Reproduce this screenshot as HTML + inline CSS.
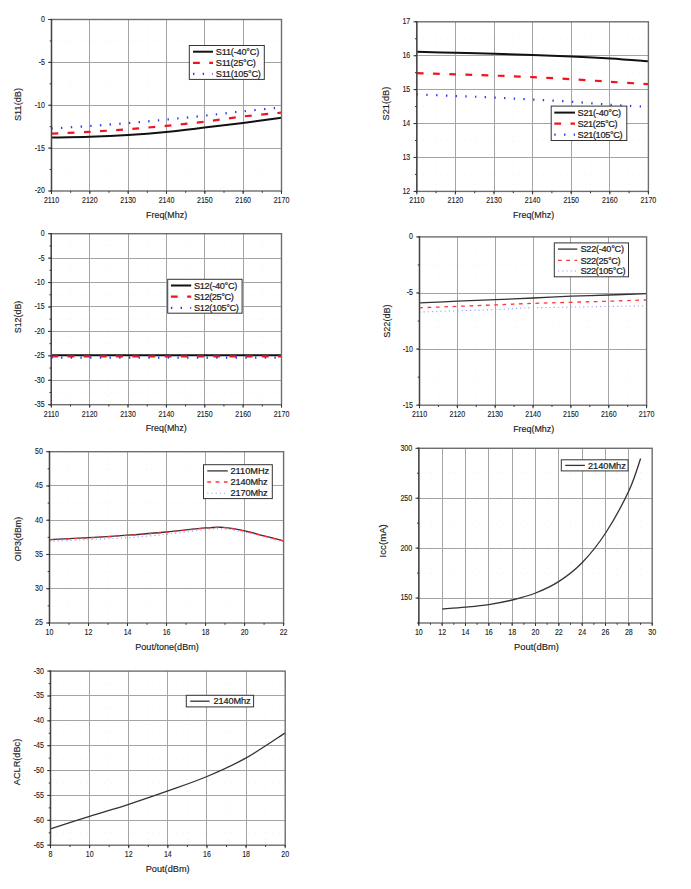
<!DOCTYPE html>
<html><head><meta charset="utf-8"><style>
html,body{margin:0;padding:0;background:#fff;width:691px;height:889px;overflow:hidden}
svg{display:block;font-family:"Liberation Sans", sans-serif}
</style></head><body>
<svg width="691" height="889" viewBox="0 0 691 889">
<rect width="691" height="889" fill="#fff"/>
<line x1="70.67" y1="19.5" x2="70.67" y2="191.0" stroke="#f0f0f0" stroke-width="0.8" stroke-dasharray="1 5"/>
<line x1="109.00" y1="19.5" x2="109.00" y2="191.0" stroke="#f0f0f0" stroke-width="0.8" stroke-dasharray="1 5"/>
<line x1="147.33" y1="19.5" x2="147.33" y2="191.0" stroke="#f0f0f0" stroke-width="0.8" stroke-dasharray="1 5"/>
<line x1="185.67" y1="19.5" x2="185.67" y2="191.0" stroke="#f0f0f0" stroke-width="0.8" stroke-dasharray="1 5"/>
<line x1="224.00" y1="19.5" x2="224.00" y2="191.0" stroke="#f0f0f0" stroke-width="0.8" stroke-dasharray="1 5"/>
<line x1="262.33" y1="19.5" x2="262.33" y2="191.0" stroke="#f0f0f0" stroke-width="0.8" stroke-dasharray="1 5"/>
<line x1="51.5" y1="169.56" x2="281.5" y2="169.56" stroke="#f0f0f0" stroke-width="0.8" stroke-dasharray="1 5"/>
<line x1="51.5" y1="126.69" x2="281.5" y2="126.69" stroke="#f0f0f0" stroke-width="0.8" stroke-dasharray="1 5"/>
<line x1="51.5" y1="83.81" x2="281.5" y2="83.81" stroke="#f0f0f0" stroke-width="0.8" stroke-dasharray="1 5"/>
<line x1="51.5" y1="40.94" x2="281.5" y2="40.94" stroke="#f0f0f0" stroke-width="0.8" stroke-dasharray="1 5"/>
<line x1="89.50" y1="19.5" x2="89.50" y2="191.0" stroke="#a4a4a4" stroke-width="1"/>
<line x1="128.50" y1="19.5" x2="128.50" y2="191.0" stroke="#a4a4a4" stroke-width="1"/>
<line x1="166.50" y1="19.5" x2="166.50" y2="191.0" stroke="#a4a4a4" stroke-width="1"/>
<line x1="204.50" y1="19.5" x2="204.50" y2="191.0" stroke="#a4a4a4" stroke-width="1"/>
<line x1="243.50" y1="19.5" x2="243.50" y2="191.0" stroke="#a4a4a4" stroke-width="1"/>
<line x1="51.5" y1="148.50" x2="281.5" y2="148.50" stroke="#a4a4a4" stroke-width="1"/>
<line x1="51.5" y1="105.50" x2="281.5" y2="105.50" stroke="#a4a4a4" stroke-width="1"/>
<line x1="51.5" y1="62.50" x2="281.5" y2="62.50" stroke="#a4a4a4" stroke-width="1"/>
<path d="M51.50,137.50 C57.88,137.37 77.05,137.13 89.80,136.70 C102.55,136.27 115.30,135.70 128.00,134.90 C140.70,134.10 153.25,133.12 166.00,131.90 C178.75,130.68 191.67,129.08 204.50,127.60 C217.33,126.12 230.17,124.63 243.00,123.00 C255.83,121.37 275.08,118.67 281.50,117.80" stroke="#111" stroke-width="2" fill="none"/>
<path d="M51.50,133.60 C57.88,133.30 77.05,132.53 89.80,131.80 C102.55,131.07 115.30,130.18 128.00,129.20 C140.70,128.22 153.25,127.15 166.00,125.90 C178.75,124.65 191.67,123.27 204.50,121.70 C217.33,120.13 230.17,118.02 243.00,116.50 C255.83,114.98 275.08,113.25 281.50,112.60" stroke="#f0141e" stroke-width="2.2" fill="none" stroke-dasharray="6.8 9.4"/>
<path d="M51.50,128.50 C57.88,128.08 77.05,126.90 89.80,126.00 C102.55,125.10 115.30,124.17 128.00,123.10 C140.70,122.03 153.25,120.83 166.00,119.60 C178.75,118.37 191.67,117.08 204.50,115.70 C217.33,114.32 230.17,112.68 243.00,111.30 C255.83,109.92 275.08,108.05 281.50,107.40" stroke="#2b3cf0" stroke-width="2.2" fill="none" stroke-dasharray="1.4 8.3" stroke-linecap="butt"/>
<rect x="51.5" y="19.5" width="230.00" height="171.50" fill="none" stroke="#6e6e6e" stroke-width="1.4"/>
<line x1="51.5" y1="18.8" x2="51.5" y2="191.7" stroke="#444" stroke-width="1.25"/>
<line x1="51.50" y1="191.0" x2="51.50" y2="194.0" stroke="#333" stroke-width="1"/>
<line x1="89.83" y1="191.0" x2="89.83" y2="194.0" stroke="#333" stroke-width="1"/>
<line x1="128.17" y1="191.0" x2="128.17" y2="194.0" stroke="#333" stroke-width="1"/>
<line x1="166.50" y1="191.0" x2="166.50" y2="194.0" stroke="#333" stroke-width="1"/>
<line x1="204.83" y1="191.0" x2="204.83" y2="194.0" stroke="#333" stroke-width="1"/>
<line x1="243.17" y1="191.0" x2="243.17" y2="194.0" stroke="#333" stroke-width="1"/>
<line x1="281.50" y1="191.0" x2="281.50" y2="194.0" stroke="#333" stroke-width="1"/>
<line x1="51.50" y1="191.0" x2="51.50" y2="192.8" stroke="#333" stroke-width="1"/>
<line x1="70.67" y1="191.0" x2="70.67" y2="192.8" stroke="#333" stroke-width="1"/>
<line x1="89.83" y1="191.0" x2="89.83" y2="192.8" stroke="#333" stroke-width="1"/>
<line x1="109.00" y1="191.0" x2="109.00" y2="192.8" stroke="#333" stroke-width="1"/>
<line x1="128.17" y1="191.0" x2="128.17" y2="192.8" stroke="#333" stroke-width="1"/>
<line x1="147.33" y1="191.0" x2="147.33" y2="192.8" stroke="#333" stroke-width="1"/>
<line x1="166.50" y1="191.0" x2="166.50" y2="192.8" stroke="#333" stroke-width="1"/>
<line x1="185.67" y1="191.0" x2="185.67" y2="192.8" stroke="#333" stroke-width="1"/>
<line x1="204.83" y1="191.0" x2="204.83" y2="192.8" stroke="#333" stroke-width="1"/>
<line x1="224.00" y1="191.0" x2="224.00" y2="192.8" stroke="#333" stroke-width="1"/>
<line x1="243.17" y1="191.0" x2="243.17" y2="192.8" stroke="#333" stroke-width="1"/>
<line x1="262.33" y1="191.0" x2="262.33" y2="192.8" stroke="#333" stroke-width="1"/>
<line x1="281.50" y1="191.0" x2="281.50" y2="192.8" stroke="#333" stroke-width="1"/>
<line x1="48.2" y1="191.00" x2="51.5" y2="191.00" stroke="#333" stroke-width="1"/>
<line x1="48.2" y1="148.12" x2="51.5" y2="148.12" stroke="#333" stroke-width="1"/>
<line x1="48.2" y1="105.25" x2="51.5" y2="105.25" stroke="#333" stroke-width="1"/>
<line x1="48.2" y1="62.38" x2="51.5" y2="62.38" stroke="#333" stroke-width="1"/>
<line x1="48.2" y1="19.50" x2="51.5" y2="19.50" stroke="#333" stroke-width="1"/>
<line x1="49.7" y1="191.00" x2="51.5" y2="191.00" stroke="#333" stroke-width="1"/>
<line x1="49.7" y1="169.56" x2="51.5" y2="169.56" stroke="#333" stroke-width="1"/>
<line x1="49.7" y1="148.12" x2="51.5" y2="148.12" stroke="#333" stroke-width="1"/>
<line x1="49.7" y1="126.69" x2="51.5" y2="126.69" stroke="#333" stroke-width="1"/>
<line x1="49.7" y1="105.25" x2="51.5" y2="105.25" stroke="#333" stroke-width="1"/>
<line x1="49.7" y1="83.81" x2="51.5" y2="83.81" stroke="#333" stroke-width="1"/>
<line x1="49.7" y1="62.38" x2="51.5" y2="62.38" stroke="#333" stroke-width="1"/>
<line x1="49.7" y1="40.94" x2="51.5" y2="40.94" stroke="#333" stroke-width="1"/>
<line x1="49.7" y1="19.50" x2="51.5" y2="19.50" stroke="#333" stroke-width="1"/>
<text transform="translate(51.50,203.00) scale(0.86,1)" font-size="8.2" text-anchor="middle" fill="#1a1a1a" stroke="#1a1a1a" stroke-width="0.12">2110</text>
<text transform="translate(89.83,203.00) scale(0.86,1)" font-size="8.2" text-anchor="middle" fill="#1a1a1a" stroke="#1a1a1a" stroke-width="0.12">2120</text>
<text transform="translate(128.17,203.00) scale(0.86,1)" font-size="8.2" text-anchor="middle" fill="#1a1a1a" stroke="#1a1a1a" stroke-width="0.12">2130</text>
<text transform="translate(166.50,203.00) scale(0.86,1)" font-size="8.2" text-anchor="middle" fill="#1a1a1a" stroke="#1a1a1a" stroke-width="0.12">2140</text>
<text transform="translate(204.83,203.00) scale(0.86,1)" font-size="8.2" text-anchor="middle" fill="#1a1a1a" stroke="#1a1a1a" stroke-width="0.12">2150</text>
<text transform="translate(243.17,203.00) scale(0.86,1)" font-size="8.2" text-anchor="middle" fill="#1a1a1a" stroke="#1a1a1a" stroke-width="0.12">2160</text>
<text transform="translate(281.50,203.00) scale(0.86,1)" font-size="8.2" text-anchor="middle" fill="#1a1a1a" stroke="#1a1a1a" stroke-width="0.12">2170</text>
<text transform="translate(44.90,193.45) scale(0.86,1)" font-size="8.2" text-anchor="end" fill="#1a1a1a" stroke="#1a1a1a" stroke-width="0.12">-20</text>
<text transform="translate(44.90,150.57) scale(0.86,1)" font-size="8.2" text-anchor="end" fill="#1a1a1a" stroke="#1a1a1a" stroke-width="0.12">-15</text>
<text transform="translate(44.90,107.70) scale(0.86,1)" font-size="8.2" text-anchor="end" fill="#1a1a1a" stroke="#1a1a1a" stroke-width="0.12">-10</text>
<text transform="translate(44.90,64.83) scale(0.86,1)" font-size="8.2" text-anchor="end" fill="#1a1a1a" stroke="#1a1a1a" stroke-width="0.12">-5</text>
<text transform="translate(44.90,21.95) scale(0.86,1)" font-size="8.2" text-anchor="end" fill="#1a1a1a" stroke="#1a1a1a" stroke-width="0.12">0</text>
<text x="146.10" y="217.70" font-size="9.1" fill="#1a1a1a" stroke="#1a1a1a" stroke-width="0.15" textLength="41.0" lengthAdjust="spacingAndGlyphs">Freq(Mhz)</text>
<text transform="translate(20.70,104.50) rotate(-90)" x="-16.50" y="0" font-size="9.1" fill="#1a1a1a" stroke="#1a1a1a" stroke-width="0.15" textLength="33.0" lengthAdjust="spacingAndGlyphs">S11(dB)</text>
<rect x="189.3" y="45.5" width="75.00" height="33.90" fill="#fff" stroke="#333" stroke-width="1"/>
<line x1="193" y1="51.7" x2="213" y2="51.7" stroke="#111" stroke-width="2" fill="none"/>
<text x="215.8" y="54.90" font-size="9.2" fill="#1a1a1a" stroke="#1a1a1a" stroke-width="0.22" textLength="43.5" lengthAdjust="spacing">S11(-40°C)</text>
<line x1="193" y1="62.8" x2="213" y2="62.8" stroke="#f0141e" stroke-width="2.2" fill="none" stroke-dasharray="6.8 9.4"/>
<text x="215.8" y="66.00" font-size="9.2" fill="#1a1a1a" stroke="#1a1a1a" stroke-width="0.22" textLength="40.0" lengthAdjust="spacing">S11(25°C)</text>
<line x1="193" y1="73.8" x2="213" y2="73.8" stroke="#2b3cf0" stroke-width="2.2" fill="none" stroke-dasharray="1.4 8.3" stroke-linecap="butt"/>
<text x="215.8" y="77.00" font-size="9.2" fill="#1a1a1a" stroke="#1a1a1a" stroke-width="0.22" textLength="45.0" lengthAdjust="spacing">S11(105°C)</text>
<line x1="436.10" y1="21.8" x2="436.10" y2="191.4" stroke="#f0f0f0" stroke-width="0.8" stroke-dasharray="1 5"/>
<line x1="474.70" y1="21.8" x2="474.70" y2="191.4" stroke="#f0f0f0" stroke-width="0.8" stroke-dasharray="1 5"/>
<line x1="513.30" y1="21.8" x2="513.30" y2="191.4" stroke="#f0f0f0" stroke-width="0.8" stroke-dasharray="1 5"/>
<line x1="551.90" y1="21.8" x2="551.90" y2="191.4" stroke="#f0f0f0" stroke-width="0.8" stroke-dasharray="1 5"/>
<line x1="590.50" y1="21.8" x2="590.50" y2="191.4" stroke="#f0f0f0" stroke-width="0.8" stroke-dasharray="1 5"/>
<line x1="629.10" y1="21.8" x2="629.10" y2="191.4" stroke="#f0f0f0" stroke-width="0.8" stroke-dasharray="1 5"/>
<line x1="416.8" y1="174.44" x2="648.4" y2="174.44" stroke="#f0f0f0" stroke-width="0.8" stroke-dasharray="1 5"/>
<line x1="416.8" y1="140.52" x2="648.4" y2="140.52" stroke="#f0f0f0" stroke-width="0.8" stroke-dasharray="1 5"/>
<line x1="416.8" y1="106.60" x2="648.4" y2="106.60" stroke="#f0f0f0" stroke-width="0.8" stroke-dasharray="1 5"/>
<line x1="416.8" y1="72.68" x2="648.4" y2="72.68" stroke="#f0f0f0" stroke-width="0.8" stroke-dasharray="1 5"/>
<line x1="416.8" y1="38.76" x2="648.4" y2="38.76" stroke="#f0f0f0" stroke-width="0.8" stroke-dasharray="1 5"/>
<line x1="455.50" y1="21.8" x2="455.50" y2="191.4" stroke="#a4a4a4" stroke-width="1"/>
<line x1="494.50" y1="21.8" x2="494.50" y2="191.4" stroke="#a4a4a4" stroke-width="1"/>
<line x1="532.50" y1="21.8" x2="532.50" y2="191.4" stroke="#a4a4a4" stroke-width="1"/>
<line x1="571.50" y1="21.8" x2="571.50" y2="191.4" stroke="#a4a4a4" stroke-width="1"/>
<line x1="609.50" y1="21.8" x2="609.50" y2="191.4" stroke="#a4a4a4" stroke-width="1"/>
<line x1="416.8" y1="157.50" x2="648.4" y2="157.50" stroke="#a4a4a4" stroke-width="1"/>
<line x1="416.8" y1="123.50" x2="648.4" y2="123.50" stroke="#a4a4a4" stroke-width="1"/>
<line x1="416.8" y1="89.50" x2="648.4" y2="89.50" stroke="#a4a4a4" stroke-width="1"/>
<line x1="416.8" y1="55.50" x2="648.4" y2="55.50" stroke="#a4a4a4" stroke-width="1"/>
<path d="M416.80,51.80 C423.25,51.97 442.63,52.47 455.50,52.80 C468.37,53.13 481.15,53.45 494.00,53.80 C506.85,54.15 519.70,54.47 532.60,54.90 C545.50,55.33 558.42,55.80 571.40,56.40 C584.38,57.00 597.67,57.68 610.50,58.50 C623.33,59.32 642.08,60.83 648.40,61.30" stroke="#111" stroke-width="2" fill="none"/>
<path d="M416.80,73.20 C423.25,73.40 442.63,74.00 455.50,74.40 C468.37,74.80 481.15,75.15 494.00,75.60 C506.85,76.05 519.70,76.50 532.60,77.10 C545.50,77.70 558.42,78.42 571.40,79.20 C584.38,79.98 597.67,80.98 610.50,81.80 C623.33,82.62 642.08,83.72 648.40,84.10" stroke="#f0141e" stroke-width="2.2" fill="none" stroke-dasharray="6.8 9.4"/>
<path d="M416.80,94.40 C423.25,94.67 442.63,95.48 455.50,96.00 C468.37,96.52 481.15,96.90 494.00,97.50 C506.85,98.10 519.70,98.90 532.60,99.60 C545.50,100.30 558.42,100.83 571.40,101.70 C584.38,102.57 597.67,103.93 610.50,104.80 C623.33,105.67 642.08,106.55 648.40,106.90" stroke="#2b3cf0" stroke-width="2.2" fill="none" stroke-dasharray="1.4 8.3" stroke-linecap="butt"/>
<rect x="416.8" y="21.8" width="231.60" height="169.60" fill="none" stroke="#6e6e6e" stroke-width="1.4"/>
<line x1="416.8" y1="21.1" x2="416.8" y2="192.1" stroke="#444" stroke-width="1.25"/>
<line x1="416.80" y1="191.4" x2="416.80" y2="194.4" stroke="#333" stroke-width="1"/>
<line x1="455.40" y1="191.4" x2="455.40" y2="194.4" stroke="#333" stroke-width="1"/>
<line x1="494.00" y1="191.4" x2="494.00" y2="194.4" stroke="#333" stroke-width="1"/>
<line x1="532.60" y1="191.4" x2="532.60" y2="194.4" stroke="#333" stroke-width="1"/>
<line x1="571.20" y1="191.4" x2="571.20" y2="194.4" stroke="#333" stroke-width="1"/>
<line x1="609.80" y1="191.4" x2="609.80" y2="194.4" stroke="#333" stroke-width="1"/>
<line x1="648.40" y1="191.4" x2="648.40" y2="194.4" stroke="#333" stroke-width="1"/>
<line x1="416.80" y1="191.4" x2="416.80" y2="193.20000000000002" stroke="#333" stroke-width="1"/>
<line x1="436.10" y1="191.4" x2="436.10" y2="193.20000000000002" stroke="#333" stroke-width="1"/>
<line x1="455.40" y1="191.4" x2="455.40" y2="193.20000000000002" stroke="#333" stroke-width="1"/>
<line x1="474.70" y1="191.4" x2="474.70" y2="193.20000000000002" stroke="#333" stroke-width="1"/>
<line x1="494.00" y1="191.4" x2="494.00" y2="193.20000000000002" stroke="#333" stroke-width="1"/>
<line x1="513.30" y1="191.4" x2="513.30" y2="193.20000000000002" stroke="#333" stroke-width="1"/>
<line x1="532.60" y1="191.4" x2="532.60" y2="193.20000000000002" stroke="#333" stroke-width="1"/>
<line x1="551.90" y1="191.4" x2="551.90" y2="193.20000000000002" stroke="#333" stroke-width="1"/>
<line x1="571.20" y1="191.4" x2="571.20" y2="193.20000000000002" stroke="#333" stroke-width="1"/>
<line x1="590.50" y1="191.4" x2="590.50" y2="193.20000000000002" stroke="#333" stroke-width="1"/>
<line x1="609.80" y1="191.4" x2="609.80" y2="193.20000000000002" stroke="#333" stroke-width="1"/>
<line x1="629.10" y1="191.4" x2="629.10" y2="193.20000000000002" stroke="#333" stroke-width="1"/>
<line x1="648.40" y1="191.4" x2="648.40" y2="193.20000000000002" stroke="#333" stroke-width="1"/>
<line x1="413.5" y1="191.40" x2="416.8" y2="191.40" stroke="#333" stroke-width="1"/>
<line x1="413.5" y1="157.48" x2="416.8" y2="157.48" stroke="#333" stroke-width="1"/>
<line x1="413.5" y1="123.56" x2="416.8" y2="123.56" stroke="#333" stroke-width="1"/>
<line x1="413.5" y1="89.64" x2="416.8" y2="89.64" stroke="#333" stroke-width="1"/>
<line x1="413.5" y1="55.72" x2="416.8" y2="55.72" stroke="#333" stroke-width="1"/>
<line x1="413.5" y1="21.80" x2="416.8" y2="21.80" stroke="#333" stroke-width="1"/>
<line x1="415.0" y1="191.40" x2="416.8" y2="191.40" stroke="#333" stroke-width="1"/>
<line x1="415.0" y1="174.44" x2="416.8" y2="174.44" stroke="#333" stroke-width="1"/>
<line x1="415.0" y1="157.48" x2="416.8" y2="157.48" stroke="#333" stroke-width="1"/>
<line x1="415.0" y1="140.52" x2="416.8" y2="140.52" stroke="#333" stroke-width="1"/>
<line x1="415.0" y1="123.56" x2="416.8" y2="123.56" stroke="#333" stroke-width="1"/>
<line x1="415.0" y1="106.60" x2="416.8" y2="106.60" stroke="#333" stroke-width="1"/>
<line x1="415.0" y1="89.64" x2="416.8" y2="89.64" stroke="#333" stroke-width="1"/>
<line x1="415.0" y1="72.68" x2="416.8" y2="72.68" stroke="#333" stroke-width="1"/>
<line x1="415.0" y1="55.72" x2="416.8" y2="55.72" stroke="#333" stroke-width="1"/>
<line x1="415.0" y1="38.76" x2="416.8" y2="38.76" stroke="#333" stroke-width="1"/>
<line x1="415.0" y1="21.80" x2="416.8" y2="21.80" stroke="#333" stroke-width="1"/>
<text transform="translate(416.80,203.40) scale(0.86,1)" font-size="8.2" text-anchor="middle" fill="#1a1a1a" stroke="#1a1a1a" stroke-width="0.12">2110</text>
<text transform="translate(455.40,203.40) scale(0.86,1)" font-size="8.2" text-anchor="middle" fill="#1a1a1a" stroke="#1a1a1a" stroke-width="0.12">2120</text>
<text transform="translate(494.00,203.40) scale(0.86,1)" font-size="8.2" text-anchor="middle" fill="#1a1a1a" stroke="#1a1a1a" stroke-width="0.12">2130</text>
<text transform="translate(532.60,203.40) scale(0.86,1)" font-size="8.2" text-anchor="middle" fill="#1a1a1a" stroke="#1a1a1a" stroke-width="0.12">2140</text>
<text transform="translate(571.20,203.40) scale(0.86,1)" font-size="8.2" text-anchor="middle" fill="#1a1a1a" stroke="#1a1a1a" stroke-width="0.12">2150</text>
<text transform="translate(609.80,203.40) scale(0.86,1)" font-size="8.2" text-anchor="middle" fill="#1a1a1a" stroke="#1a1a1a" stroke-width="0.12">2160</text>
<text transform="translate(648.40,203.40) scale(0.86,1)" font-size="8.2" text-anchor="middle" fill="#1a1a1a" stroke="#1a1a1a" stroke-width="0.12">2170</text>
<text transform="translate(410.20,193.85) scale(0.86,1)" font-size="8.2" text-anchor="end" fill="#1a1a1a" stroke="#1a1a1a" stroke-width="0.12">12</text>
<text transform="translate(410.20,159.93) scale(0.86,1)" font-size="8.2" text-anchor="end" fill="#1a1a1a" stroke="#1a1a1a" stroke-width="0.12">13</text>
<text transform="translate(410.20,126.01) scale(0.86,1)" font-size="8.2" text-anchor="end" fill="#1a1a1a" stroke="#1a1a1a" stroke-width="0.12">14</text>
<text transform="translate(410.20,92.09) scale(0.86,1)" font-size="8.2" text-anchor="end" fill="#1a1a1a" stroke="#1a1a1a" stroke-width="0.12">15</text>
<text transform="translate(410.20,58.17) scale(0.86,1)" font-size="8.2" text-anchor="end" fill="#1a1a1a" stroke="#1a1a1a" stroke-width="0.12">16</text>
<text transform="translate(410.20,24.25) scale(0.86,1)" font-size="8.2" text-anchor="end" fill="#1a1a1a" stroke="#1a1a1a" stroke-width="0.12">17</text>
<text x="513.10" y="218.10" font-size="9.1" fill="#1a1a1a" stroke="#1a1a1a" stroke-width="0.15" textLength="41.0" lengthAdjust="spacingAndGlyphs">Freq(Mhz)</text>
<text transform="translate(388.70,103.60) rotate(-90)" x="-16.90" y="0" font-size="9.1" fill="#1a1a1a" stroke="#1a1a1a" stroke-width="0.15" textLength="33.8" lengthAdjust="spacingAndGlyphs">S21(dB)</text>
<rect x="551.2" y="106.1" width="75.60" height="34.40" fill="#fff" stroke="#333" stroke-width="1"/>
<line x1="554.3" y1="112.6" x2="575" y2="112.6" stroke="#111" stroke-width="2" fill="none"/>
<text x="577.6" y="115.80" font-size="9.2" fill="#1a1a1a" stroke="#1a1a1a" stroke-width="0.22" textLength="43.5" lengthAdjust="spacing">S21(-40°C)</text>
<line x1="554.3" y1="123.7" x2="575" y2="123.7" stroke="#f0141e" stroke-width="2.2" fill="none" stroke-dasharray="6.8 9.4"/>
<text x="577.6" y="126.90" font-size="9.2" fill="#1a1a1a" stroke="#1a1a1a" stroke-width="0.22" textLength="40.0" lengthAdjust="spacing">S21(25°C)</text>
<line x1="554.3" y1="134.6" x2="575" y2="134.6" stroke="#2b3cf0" stroke-width="2.2" fill="none" stroke-dasharray="1.4 8.3" stroke-linecap="butt"/>
<text x="577.6" y="137.80" font-size="9.2" fill="#1a1a1a" stroke="#1a1a1a" stroke-width="0.22" textLength="45.0" lengthAdjust="spacing">S21(105°C)</text>
<line x1="70.48" y1="233.7" x2="70.48" y2="404.7" stroke="#f0f0f0" stroke-width="0.8" stroke-dasharray="1 5"/>
<line x1="108.85" y1="233.7" x2="108.85" y2="404.7" stroke="#f0f0f0" stroke-width="0.8" stroke-dasharray="1 5"/>
<line x1="147.22" y1="233.7" x2="147.22" y2="404.7" stroke="#f0f0f0" stroke-width="0.8" stroke-dasharray="1 5"/>
<line x1="185.58" y1="233.7" x2="185.58" y2="404.7" stroke="#f0f0f0" stroke-width="0.8" stroke-dasharray="1 5"/>
<line x1="223.95" y1="233.7" x2="223.95" y2="404.7" stroke="#f0f0f0" stroke-width="0.8" stroke-dasharray="1 5"/>
<line x1="262.32" y1="233.7" x2="262.32" y2="404.7" stroke="#f0f0f0" stroke-width="0.8" stroke-dasharray="1 5"/>
<line x1="51.3" y1="392.49" x2="281.5" y2="392.49" stroke="#f0f0f0" stroke-width="0.8" stroke-dasharray="1 5"/>
<line x1="51.3" y1="368.06" x2="281.5" y2="368.06" stroke="#f0f0f0" stroke-width="0.8" stroke-dasharray="1 5"/>
<line x1="51.3" y1="343.63" x2="281.5" y2="343.63" stroke="#f0f0f0" stroke-width="0.8" stroke-dasharray="1 5"/>
<line x1="51.3" y1="319.20" x2="281.5" y2="319.20" stroke="#f0f0f0" stroke-width="0.8" stroke-dasharray="1 5"/>
<line x1="51.3" y1="294.77" x2="281.5" y2="294.77" stroke="#f0f0f0" stroke-width="0.8" stroke-dasharray="1 5"/>
<line x1="51.3" y1="270.34" x2="281.5" y2="270.34" stroke="#f0f0f0" stroke-width="0.8" stroke-dasharray="1 5"/>
<line x1="51.3" y1="245.91" x2="281.5" y2="245.91" stroke="#f0f0f0" stroke-width="0.8" stroke-dasharray="1 5"/>
<line x1="89.50" y1="233.7" x2="89.50" y2="404.7" stroke="#a4a4a4" stroke-width="1"/>
<line x1="128.50" y1="233.7" x2="128.50" y2="404.7" stroke="#a4a4a4" stroke-width="1"/>
<line x1="166.50" y1="233.7" x2="166.50" y2="404.7" stroke="#a4a4a4" stroke-width="1"/>
<line x1="204.50" y1="233.7" x2="204.50" y2="404.7" stroke="#a4a4a4" stroke-width="1"/>
<line x1="243.50" y1="233.7" x2="243.50" y2="404.7" stroke="#a4a4a4" stroke-width="1"/>
<line x1="51.3" y1="380.50" x2="281.5" y2="380.50" stroke="#a4a4a4" stroke-width="1"/>
<line x1="51.3" y1="355.50" x2="281.5" y2="355.50" stroke="#a4a4a4" stroke-width="1"/>
<line x1="51.3" y1="331.50" x2="281.5" y2="331.50" stroke="#a4a4a4" stroke-width="1"/>
<line x1="51.3" y1="306.50" x2="281.5" y2="306.50" stroke="#a4a4a4" stroke-width="1"/>
<line x1="51.3" y1="282.50" x2="281.5" y2="282.50" stroke="#a4a4a4" stroke-width="1"/>
<line x1="51.3" y1="258.50" x2="281.5" y2="258.50" stroke="#a4a4a4" stroke-width="1"/>
<path d="M51.30,355.30 L281.50,355.30" stroke="#111" stroke-width="2" fill="none"/>
<path d="M51.30,356.40 L281.50,356.40" stroke="#f0141e" stroke-width="2.2" fill="none" stroke-dasharray="6.8 9.4"/>
<path d="M51.30,357.60 L281.50,357.60" stroke="#2b3cf0" stroke-width="2.2" fill="none" stroke-dasharray="1.4 8.3" stroke-linecap="butt"/>
<rect x="51.3" y="233.7" width="230.20" height="171.00" fill="none" stroke="#6e6e6e" stroke-width="1.4"/>
<line x1="51.3" y1="233.0" x2="51.3" y2="405.4" stroke="#444" stroke-width="1.25"/>
<line x1="51.30" y1="404.7" x2="51.30" y2="407.7" stroke="#333" stroke-width="1"/>
<line x1="89.67" y1="404.7" x2="89.67" y2="407.7" stroke="#333" stroke-width="1"/>
<line x1="128.03" y1="404.7" x2="128.03" y2="407.7" stroke="#333" stroke-width="1"/>
<line x1="166.40" y1="404.7" x2="166.40" y2="407.7" stroke="#333" stroke-width="1"/>
<line x1="204.77" y1="404.7" x2="204.77" y2="407.7" stroke="#333" stroke-width="1"/>
<line x1="243.13" y1="404.7" x2="243.13" y2="407.7" stroke="#333" stroke-width="1"/>
<line x1="281.50" y1="404.7" x2="281.50" y2="407.7" stroke="#333" stroke-width="1"/>
<line x1="51.30" y1="404.7" x2="51.30" y2="406.5" stroke="#333" stroke-width="1"/>
<line x1="70.48" y1="404.7" x2="70.48" y2="406.5" stroke="#333" stroke-width="1"/>
<line x1="89.67" y1="404.7" x2="89.67" y2="406.5" stroke="#333" stroke-width="1"/>
<line x1="108.85" y1="404.7" x2="108.85" y2="406.5" stroke="#333" stroke-width="1"/>
<line x1="128.03" y1="404.7" x2="128.03" y2="406.5" stroke="#333" stroke-width="1"/>
<line x1="147.22" y1="404.7" x2="147.22" y2="406.5" stroke="#333" stroke-width="1"/>
<line x1="166.40" y1="404.7" x2="166.40" y2="406.5" stroke="#333" stroke-width="1"/>
<line x1="185.58" y1="404.7" x2="185.58" y2="406.5" stroke="#333" stroke-width="1"/>
<line x1="204.77" y1="404.7" x2="204.77" y2="406.5" stroke="#333" stroke-width="1"/>
<line x1="223.95" y1="404.7" x2="223.95" y2="406.5" stroke="#333" stroke-width="1"/>
<line x1="243.13" y1="404.7" x2="243.13" y2="406.5" stroke="#333" stroke-width="1"/>
<line x1="262.32" y1="404.7" x2="262.32" y2="406.5" stroke="#333" stroke-width="1"/>
<line x1="281.50" y1="404.7" x2="281.50" y2="406.5" stroke="#333" stroke-width="1"/>
<line x1="48.0" y1="404.70" x2="51.3" y2="404.70" stroke="#333" stroke-width="1"/>
<line x1="48.0" y1="380.27" x2="51.3" y2="380.27" stroke="#333" stroke-width="1"/>
<line x1="48.0" y1="355.84" x2="51.3" y2="355.84" stroke="#333" stroke-width="1"/>
<line x1="48.0" y1="331.41" x2="51.3" y2="331.41" stroke="#333" stroke-width="1"/>
<line x1="48.0" y1="306.99" x2="51.3" y2="306.99" stroke="#333" stroke-width="1"/>
<line x1="48.0" y1="282.56" x2="51.3" y2="282.56" stroke="#333" stroke-width="1"/>
<line x1="48.0" y1="258.13" x2="51.3" y2="258.13" stroke="#333" stroke-width="1"/>
<line x1="48.0" y1="233.70" x2="51.3" y2="233.70" stroke="#333" stroke-width="1"/>
<line x1="49.5" y1="404.70" x2="51.3" y2="404.70" stroke="#333" stroke-width="1"/>
<line x1="49.5" y1="392.49" x2="51.3" y2="392.49" stroke="#333" stroke-width="1"/>
<line x1="49.5" y1="380.27" x2="51.3" y2="380.27" stroke="#333" stroke-width="1"/>
<line x1="49.5" y1="368.06" x2="51.3" y2="368.06" stroke="#333" stroke-width="1"/>
<line x1="49.5" y1="355.84" x2="51.3" y2="355.84" stroke="#333" stroke-width="1"/>
<line x1="49.5" y1="343.63" x2="51.3" y2="343.63" stroke="#333" stroke-width="1"/>
<line x1="49.5" y1="331.41" x2="51.3" y2="331.41" stroke="#333" stroke-width="1"/>
<line x1="49.5" y1="319.20" x2="51.3" y2="319.20" stroke="#333" stroke-width="1"/>
<line x1="49.5" y1="306.99" x2="51.3" y2="306.99" stroke="#333" stroke-width="1"/>
<line x1="49.5" y1="294.77" x2="51.3" y2="294.77" stroke="#333" stroke-width="1"/>
<line x1="49.5" y1="282.56" x2="51.3" y2="282.56" stroke="#333" stroke-width="1"/>
<line x1="49.5" y1="270.34" x2="51.3" y2="270.34" stroke="#333" stroke-width="1"/>
<line x1="49.5" y1="258.13" x2="51.3" y2="258.13" stroke="#333" stroke-width="1"/>
<line x1="49.5" y1="245.91" x2="51.3" y2="245.91" stroke="#333" stroke-width="1"/>
<line x1="49.5" y1="233.70" x2="51.3" y2="233.70" stroke="#333" stroke-width="1"/>
<text transform="translate(51.30,416.70) scale(0.86,1)" font-size="8.2" text-anchor="middle" fill="#1a1a1a" stroke="#1a1a1a" stroke-width="0.12">2110</text>
<text transform="translate(89.67,416.70) scale(0.86,1)" font-size="8.2" text-anchor="middle" fill="#1a1a1a" stroke="#1a1a1a" stroke-width="0.12">2120</text>
<text transform="translate(128.03,416.70) scale(0.86,1)" font-size="8.2" text-anchor="middle" fill="#1a1a1a" stroke="#1a1a1a" stroke-width="0.12">2130</text>
<text transform="translate(166.40,416.70) scale(0.86,1)" font-size="8.2" text-anchor="middle" fill="#1a1a1a" stroke="#1a1a1a" stroke-width="0.12">2140</text>
<text transform="translate(204.77,416.70) scale(0.86,1)" font-size="8.2" text-anchor="middle" fill="#1a1a1a" stroke="#1a1a1a" stroke-width="0.12">2150</text>
<text transform="translate(243.13,416.70) scale(0.86,1)" font-size="8.2" text-anchor="middle" fill="#1a1a1a" stroke="#1a1a1a" stroke-width="0.12">2160</text>
<text transform="translate(281.50,416.70) scale(0.86,1)" font-size="8.2" text-anchor="middle" fill="#1a1a1a" stroke="#1a1a1a" stroke-width="0.12">2170</text>
<text transform="translate(44.70,407.15) scale(0.86,1)" font-size="8.2" text-anchor="end" fill="#1a1a1a" stroke="#1a1a1a" stroke-width="0.12">-35</text>
<text transform="translate(44.70,382.72) scale(0.86,1)" font-size="8.2" text-anchor="end" fill="#1a1a1a" stroke="#1a1a1a" stroke-width="0.12">-30</text>
<text transform="translate(44.70,358.29) scale(0.86,1)" font-size="8.2" text-anchor="end" fill="#1a1a1a" stroke="#1a1a1a" stroke-width="0.12">-25</text>
<text transform="translate(44.70,333.86) scale(0.86,1)" font-size="8.2" text-anchor="end" fill="#1a1a1a" stroke="#1a1a1a" stroke-width="0.12">-20</text>
<text transform="translate(44.70,309.44) scale(0.86,1)" font-size="8.2" text-anchor="end" fill="#1a1a1a" stroke="#1a1a1a" stroke-width="0.12">-15</text>
<text transform="translate(44.70,285.01) scale(0.86,1)" font-size="8.2" text-anchor="end" fill="#1a1a1a" stroke="#1a1a1a" stroke-width="0.12">-10</text>
<text transform="translate(44.70,260.58) scale(0.86,1)" font-size="8.2" text-anchor="end" fill="#1a1a1a" stroke="#1a1a1a" stroke-width="0.12">-5</text>
<text transform="translate(44.70,236.15) scale(0.86,1)" font-size="8.2" text-anchor="end" fill="#1a1a1a" stroke="#1a1a1a" stroke-width="0.12">0</text>
<text x="145.70" y="431.40" font-size="9.1" fill="#1a1a1a" stroke="#1a1a1a" stroke-width="0.15" textLength="41.0" lengthAdjust="spacingAndGlyphs">Freq(Mhz)</text>
<text transform="translate(20.70,317.00) rotate(-90)" x="-16.30" y="0" font-size="9.1" fill="#1a1a1a" stroke="#1a1a1a" stroke-width="0.15" textLength="32.6" lengthAdjust="spacingAndGlyphs">S12(dB)</text>
<rect x="167.7" y="279.3" width="74.40" height="33.90" fill="#fff" stroke="#333" stroke-width="1"/>
<line x1="170.9" y1="285.5" x2="191.2" y2="285.5" stroke="#111" stroke-width="2" fill="none"/>
<text x="193.9" y="288.70" font-size="9.2" fill="#1a1a1a" stroke="#1a1a1a" stroke-width="0.22" textLength="43.5" lengthAdjust="spacing">S12(-40°C)</text>
<line x1="170.9" y1="296.7" x2="191.2" y2="296.7" stroke="#f0141e" stroke-width="2.2" fill="none" stroke-dasharray="6.8 9.4"/>
<text x="193.9" y="299.90" font-size="9.2" fill="#1a1a1a" stroke="#1a1a1a" stroke-width="0.22" textLength="40.0" lengthAdjust="spacing">S12(25°C)</text>
<line x1="170.9" y1="307.8" x2="191.2" y2="307.8" stroke="#2b3cf0" stroke-width="2.2" fill="none" stroke-dasharray="1.4 8.3" stroke-linecap="butt"/>
<text x="193.9" y="311.00" font-size="9.2" fill="#1a1a1a" stroke="#1a1a1a" stroke-width="0.22" textLength="45.0" lengthAdjust="spacing">S12(105°C)</text>
<line x1="438.43" y1="236.9" x2="438.43" y2="405.2" stroke="#f0f0f0" stroke-width="0.8" stroke-dasharray="1 5"/>
<line x1="476.27" y1="236.9" x2="476.27" y2="405.2" stroke="#f0f0f0" stroke-width="0.8" stroke-dasharray="1 5"/>
<line x1="514.12" y1="236.9" x2="514.12" y2="405.2" stroke="#f0f0f0" stroke-width="0.8" stroke-dasharray="1 5"/>
<line x1="551.98" y1="236.9" x2="551.98" y2="405.2" stroke="#f0f0f0" stroke-width="0.8" stroke-dasharray="1 5"/>
<line x1="589.83" y1="236.9" x2="589.83" y2="405.2" stroke="#f0f0f0" stroke-width="0.8" stroke-dasharray="1 5"/>
<line x1="627.68" y1="236.9" x2="627.68" y2="405.2" stroke="#f0f0f0" stroke-width="0.8" stroke-dasharray="1 5"/>
<line x1="419.5" y1="377.15" x2="646.6" y2="377.15" stroke="#f0f0f0" stroke-width="0.8" stroke-dasharray="1 5"/>
<line x1="419.5" y1="321.05" x2="646.6" y2="321.05" stroke="#f0f0f0" stroke-width="0.8" stroke-dasharray="1 5"/>
<line x1="419.5" y1="264.95" x2="646.6" y2="264.95" stroke="#f0f0f0" stroke-width="0.8" stroke-dasharray="1 5"/>
<line x1="457.50" y1="236.9" x2="457.50" y2="405.2" stroke="#a4a4a4" stroke-width="1"/>
<line x1="495.50" y1="236.9" x2="495.50" y2="405.2" stroke="#a4a4a4" stroke-width="1"/>
<line x1="533.50" y1="236.9" x2="533.50" y2="405.2" stroke="#a4a4a4" stroke-width="1"/>
<line x1="570.50" y1="236.9" x2="570.50" y2="405.2" stroke="#a4a4a4" stroke-width="1"/>
<line x1="608.50" y1="236.9" x2="608.50" y2="405.2" stroke="#a4a4a4" stroke-width="1"/>
<line x1="419.5" y1="349.50" x2="646.6" y2="349.50" stroke="#a4a4a4" stroke-width="1"/>
<line x1="419.5" y1="293.50" x2="646.6" y2="293.50" stroke="#a4a4a4" stroke-width="1"/>
<path d="M419.50,302.90 C425.80,302.62 444.68,301.73 457.30,301.20 C469.92,300.67 482.58,300.23 495.20,299.70 C507.82,299.17 520.38,298.58 533.00,298.00 C545.62,297.42 558.28,296.70 570.90,296.20 C583.52,295.70 596.08,295.42 608.70,295.00 C621.32,294.58 640.28,293.92 646.60,293.70" stroke="#333" stroke-width="1.3" fill="none"/>
<path d="M419.50,307.80 C432.12,307.32 476.28,305.63 495.20,304.90 C514.12,304.17 514.08,304.02 533.00,303.40 C551.92,302.78 589.77,301.78 608.70,301.20 C627.63,300.62 640.28,300.12 646.60,299.90" stroke="#f33" stroke-width="1.3" fill="none" stroke-dasharray="3.7 4.6"/>
<path d="M419.50,312.00 C432.12,311.60 476.28,310.30 495.20,309.60 C514.12,308.90 507.77,308.42 533.00,307.80 C558.23,307.18 627.67,306.22 646.60,305.90" stroke="#9aa0ff" stroke-width="1.1" fill="none" stroke-dasharray="1.2 3"/>
<rect x="419.5" y="236.9" width="227.10" height="168.30" fill="none" stroke="#6e6e6e" stroke-width="1.4"/>
<line x1="419.5" y1="236.20000000000002" x2="419.5" y2="405.9" stroke="#444" stroke-width="1.25"/>
<line x1="419.50" y1="405.2" x2="419.50" y2="408.2" stroke="#333" stroke-width="1"/>
<line x1="457.35" y1="405.2" x2="457.35" y2="408.2" stroke="#333" stroke-width="1"/>
<line x1="495.20" y1="405.2" x2="495.20" y2="408.2" stroke="#333" stroke-width="1"/>
<line x1="533.05" y1="405.2" x2="533.05" y2="408.2" stroke="#333" stroke-width="1"/>
<line x1="570.90" y1="405.2" x2="570.90" y2="408.2" stroke="#333" stroke-width="1"/>
<line x1="608.75" y1="405.2" x2="608.75" y2="408.2" stroke="#333" stroke-width="1"/>
<line x1="646.60" y1="405.2" x2="646.60" y2="408.2" stroke="#333" stroke-width="1"/>
<line x1="419.50" y1="405.2" x2="419.50" y2="407.0" stroke="#333" stroke-width="1"/>
<line x1="438.43" y1="405.2" x2="438.43" y2="407.0" stroke="#333" stroke-width="1"/>
<line x1="457.35" y1="405.2" x2="457.35" y2="407.0" stroke="#333" stroke-width="1"/>
<line x1="476.27" y1="405.2" x2="476.27" y2="407.0" stroke="#333" stroke-width="1"/>
<line x1="495.20" y1="405.2" x2="495.20" y2="407.0" stroke="#333" stroke-width="1"/>
<line x1="514.12" y1="405.2" x2="514.12" y2="407.0" stroke="#333" stroke-width="1"/>
<line x1="533.05" y1="405.2" x2="533.05" y2="407.0" stroke="#333" stroke-width="1"/>
<line x1="551.98" y1="405.2" x2="551.98" y2="407.0" stroke="#333" stroke-width="1"/>
<line x1="570.90" y1="405.2" x2="570.90" y2="407.0" stroke="#333" stroke-width="1"/>
<line x1="589.83" y1="405.2" x2="589.83" y2="407.0" stroke="#333" stroke-width="1"/>
<line x1="608.75" y1="405.2" x2="608.75" y2="407.0" stroke="#333" stroke-width="1"/>
<line x1="627.68" y1="405.2" x2="627.68" y2="407.0" stroke="#333" stroke-width="1"/>
<line x1="646.60" y1="405.2" x2="646.60" y2="407.0" stroke="#333" stroke-width="1"/>
<line x1="416.2" y1="405.20" x2="419.5" y2="405.20" stroke="#333" stroke-width="1"/>
<line x1="416.2" y1="349.10" x2="419.5" y2="349.10" stroke="#333" stroke-width="1"/>
<line x1="416.2" y1="293.00" x2="419.5" y2="293.00" stroke="#333" stroke-width="1"/>
<line x1="416.2" y1="236.90" x2="419.5" y2="236.90" stroke="#333" stroke-width="1"/>
<line x1="417.7" y1="405.20" x2="419.5" y2="405.20" stroke="#333" stroke-width="1"/>
<line x1="417.7" y1="377.15" x2="419.5" y2="377.15" stroke="#333" stroke-width="1"/>
<line x1="417.7" y1="349.10" x2="419.5" y2="349.10" stroke="#333" stroke-width="1"/>
<line x1="417.7" y1="321.05" x2="419.5" y2="321.05" stroke="#333" stroke-width="1"/>
<line x1="417.7" y1="293.00" x2="419.5" y2="293.00" stroke="#333" stroke-width="1"/>
<line x1="417.7" y1="264.95" x2="419.5" y2="264.95" stroke="#333" stroke-width="1"/>
<line x1="417.7" y1="236.90" x2="419.5" y2="236.90" stroke="#333" stroke-width="1"/>
<text transform="translate(419.50,417.20) scale(0.86,1)" font-size="8.2" text-anchor="middle" fill="#1a1a1a" stroke="#1a1a1a" stroke-width="0.12">2110</text>
<text transform="translate(457.35,417.20) scale(0.86,1)" font-size="8.2" text-anchor="middle" fill="#1a1a1a" stroke="#1a1a1a" stroke-width="0.12">2120</text>
<text transform="translate(495.20,417.20) scale(0.86,1)" font-size="8.2" text-anchor="middle" fill="#1a1a1a" stroke="#1a1a1a" stroke-width="0.12">2130</text>
<text transform="translate(533.05,417.20) scale(0.86,1)" font-size="8.2" text-anchor="middle" fill="#1a1a1a" stroke="#1a1a1a" stroke-width="0.12">2140</text>
<text transform="translate(570.90,417.20) scale(0.86,1)" font-size="8.2" text-anchor="middle" fill="#1a1a1a" stroke="#1a1a1a" stroke-width="0.12">2150</text>
<text transform="translate(608.75,417.20) scale(0.86,1)" font-size="8.2" text-anchor="middle" fill="#1a1a1a" stroke="#1a1a1a" stroke-width="0.12">2160</text>
<text transform="translate(646.60,417.20) scale(0.86,1)" font-size="8.2" text-anchor="middle" fill="#1a1a1a" stroke="#1a1a1a" stroke-width="0.12">2170</text>
<text transform="translate(412.90,407.65) scale(0.86,1)" font-size="8.2" text-anchor="end" fill="#1a1a1a" stroke="#1a1a1a" stroke-width="0.12">-15</text>
<text transform="translate(412.90,351.55) scale(0.86,1)" font-size="8.2" text-anchor="end" fill="#1a1a1a" stroke="#1a1a1a" stroke-width="0.12">-10</text>
<text transform="translate(412.90,295.45) scale(0.86,1)" font-size="8.2" text-anchor="end" fill="#1a1a1a" stroke="#1a1a1a" stroke-width="0.12">-5</text>
<text transform="translate(412.90,239.35) scale(0.86,1)" font-size="8.2" text-anchor="end" fill="#1a1a1a" stroke="#1a1a1a" stroke-width="0.12">0</text>
<text x="513.20" y="431.90" font-size="9.1" fill="#1a1a1a" stroke="#1a1a1a" stroke-width="0.15" textLength="41.0" lengthAdjust="spacingAndGlyphs">Freq(Mhz)</text>
<text transform="translate(389.70,321.10) rotate(-90)" x="-16.75" y="0" font-size="9.1" fill="#1a1a1a" stroke="#1a1a1a" stroke-width="0.15" textLength="33.5" lengthAdjust="spacingAndGlyphs">S22(dB)</text>
<rect x="554.3" y="242.9" width="74.20" height="33.90" fill="#fff" stroke="#333" stroke-width="1"/>
<line x1="558" y1="249.1" x2="577.3" y2="249.1" stroke="#333" stroke-width="1.3" fill="none"/>
<text x="580.5" y="252.30" font-size="9.2" fill="#1a1a1a" stroke="#1a1a1a" stroke-width="0.22" textLength="43.5" lengthAdjust="spacing">S22(-40°C)</text>
<line x1="558" y1="260.4" x2="577.3" y2="260.4" stroke="#f33" stroke-width="1.3" fill="none" stroke-dasharray="3.7 4.6"/>
<text x="580.5" y="263.60" font-size="9.2" fill="#1a1a1a" stroke="#1a1a1a" stroke-width="0.22" textLength="40.0" lengthAdjust="spacing">S22(25°C)</text>
<line x1="558" y1="271.0" x2="577.3" y2="271.0" stroke="#9aa0ff" stroke-width="1.1" fill="none" stroke-dasharray="1.2 3"/>
<text x="580.5" y="274.20" font-size="9.2" fill="#1a1a1a" stroke="#1a1a1a" stroke-width="0.22" textLength="45.0" lengthAdjust="spacing">S22(105°C)</text>
<line x1="69.01" y1="451.7" x2="69.01" y2="623.0" stroke="#f0f0f0" stroke-width="0.8" stroke-dasharray="1 5"/>
<line x1="108.03" y1="451.7" x2="108.03" y2="623.0" stroke="#f0f0f0" stroke-width="0.8" stroke-dasharray="1 5"/>
<line x1="147.04" y1="451.7" x2="147.04" y2="623.0" stroke="#f0f0f0" stroke-width="0.8" stroke-dasharray="1 5"/>
<line x1="186.06" y1="451.7" x2="186.06" y2="623.0" stroke="#f0f0f0" stroke-width="0.8" stroke-dasharray="1 5"/>
<line x1="225.08" y1="451.7" x2="225.08" y2="623.0" stroke="#f0f0f0" stroke-width="0.8" stroke-dasharray="1 5"/>
<line x1="264.09" y1="451.7" x2="264.09" y2="623.0" stroke="#f0f0f0" stroke-width="0.8" stroke-dasharray="1 5"/>
<line x1="49.5" y1="605.87" x2="283.6" y2="605.87" stroke="#f0f0f0" stroke-width="0.8" stroke-dasharray="1 5"/>
<line x1="49.5" y1="571.61" x2="283.6" y2="571.61" stroke="#f0f0f0" stroke-width="0.8" stroke-dasharray="1 5"/>
<line x1="49.5" y1="537.35" x2="283.6" y2="537.35" stroke="#f0f0f0" stroke-width="0.8" stroke-dasharray="1 5"/>
<line x1="49.5" y1="503.09" x2="283.6" y2="503.09" stroke="#f0f0f0" stroke-width="0.8" stroke-dasharray="1 5"/>
<line x1="49.5" y1="468.83" x2="283.6" y2="468.83" stroke="#f0f0f0" stroke-width="0.8" stroke-dasharray="1 5"/>
<line x1="88.50" y1="451.7" x2="88.50" y2="623.0" stroke="#a4a4a4" stroke-width="1"/>
<line x1="127.50" y1="451.7" x2="127.50" y2="623.0" stroke="#a4a4a4" stroke-width="1"/>
<line x1="166.50" y1="451.7" x2="166.50" y2="623.0" stroke="#a4a4a4" stroke-width="1"/>
<line x1="205.50" y1="451.7" x2="205.50" y2="623.0" stroke="#a4a4a4" stroke-width="1"/>
<line x1="244.50" y1="451.7" x2="244.50" y2="623.0" stroke="#a4a4a4" stroke-width="1"/>
<line x1="49.5" y1="588.50" x2="283.6" y2="588.50" stroke="#a4a4a4" stroke-width="1"/>
<line x1="49.5" y1="554.50" x2="283.6" y2="554.50" stroke="#a4a4a4" stroke-width="1"/>
<line x1="49.5" y1="520.50" x2="283.6" y2="520.50" stroke="#a4a4a4" stroke-width="1"/>
<line x1="49.5" y1="485.50" x2="283.6" y2="485.50" stroke="#a4a4a4" stroke-width="1"/>
<path d="M49.50,539.70 C56.00,539.37 75.48,538.45 88.50,537.70 C101.52,536.95 114.60,536.15 127.60,535.20 C140.60,534.25 153.52,533.22 166.50,532.00 C179.48,530.78 195.92,528.67 205.50,527.90 C215.08,527.13 217.48,526.90 224.00,527.40 C230.52,527.90 237.93,529.50 244.60,530.90 C251.27,532.30 257.50,534.13 264.00,535.80 C270.50,537.47 280.33,540.05 283.60,540.90" stroke="#333" stroke-width="1.3" fill="none"/>
<path d="M49.50,539.90 C56.00,539.57 75.48,538.65 88.50,537.90 C101.52,537.15 114.60,536.35 127.60,535.40 C140.60,534.45 153.52,533.42 166.50,532.20 C179.48,530.98 195.92,528.87 205.50,528.10 C215.08,527.33 217.48,527.10 224.00,527.60 C230.52,528.10 237.93,529.68 244.60,531.10 C251.27,532.52 257.50,534.42 264.00,536.10 C270.50,537.78 280.33,540.35 283.60,541.20" stroke="#f33" stroke-width="1.3" fill="none" stroke-dasharray="3.7 4.6"/>
<path d="M49.50,541.40 C56.00,541.10 75.48,540.22 88.50,539.60 C101.52,538.98 114.60,538.58 127.60,537.70 C140.60,536.82 153.52,535.65 166.50,534.30 C179.48,532.95 195.92,530.48 205.50,529.60 C215.08,528.72 217.48,528.57 224.00,529.00 C230.52,529.43 237.93,530.87 244.60,532.20 C251.27,533.53 257.50,535.37 264.00,537.00 C270.50,538.63 280.33,541.17 283.60,542.00" stroke="#9aa0ff" stroke-width="1.1" fill="none" stroke-dasharray="1.2 3"/>
<rect x="49.5" y="451.7" width="234.10" height="171.30" fill="none" stroke="#6e6e6e" stroke-width="1.4"/>
<line x1="49.5" y1="451.0" x2="49.5" y2="623.7" stroke="#444" stroke-width="1.25"/>
<line x1="49.50" y1="623.0" x2="49.50" y2="626.0" stroke="#333" stroke-width="1"/>
<line x1="88.52" y1="623.0" x2="88.52" y2="626.0" stroke="#333" stroke-width="1"/>
<line x1="127.53" y1="623.0" x2="127.53" y2="626.0" stroke="#333" stroke-width="1"/>
<line x1="166.55" y1="623.0" x2="166.55" y2="626.0" stroke="#333" stroke-width="1"/>
<line x1="205.57" y1="623.0" x2="205.57" y2="626.0" stroke="#333" stroke-width="1"/>
<line x1="244.58" y1="623.0" x2="244.58" y2="626.0" stroke="#333" stroke-width="1"/>
<line x1="283.60" y1="623.0" x2="283.60" y2="626.0" stroke="#333" stroke-width="1"/>
<line x1="49.50" y1="623.0" x2="49.50" y2="624.8" stroke="#333" stroke-width="1"/>
<line x1="69.01" y1="623.0" x2="69.01" y2="624.8" stroke="#333" stroke-width="1"/>
<line x1="88.52" y1="623.0" x2="88.52" y2="624.8" stroke="#333" stroke-width="1"/>
<line x1="108.03" y1="623.0" x2="108.03" y2="624.8" stroke="#333" stroke-width="1"/>
<line x1="127.53" y1="623.0" x2="127.53" y2="624.8" stroke="#333" stroke-width="1"/>
<line x1="147.04" y1="623.0" x2="147.04" y2="624.8" stroke="#333" stroke-width="1"/>
<line x1="166.55" y1="623.0" x2="166.55" y2="624.8" stroke="#333" stroke-width="1"/>
<line x1="186.06" y1="623.0" x2="186.06" y2="624.8" stroke="#333" stroke-width="1"/>
<line x1="205.57" y1="623.0" x2="205.57" y2="624.8" stroke="#333" stroke-width="1"/>
<line x1="225.08" y1="623.0" x2="225.08" y2="624.8" stroke="#333" stroke-width="1"/>
<line x1="244.58" y1="623.0" x2="244.58" y2="624.8" stroke="#333" stroke-width="1"/>
<line x1="264.09" y1="623.0" x2="264.09" y2="624.8" stroke="#333" stroke-width="1"/>
<line x1="283.60" y1="623.0" x2="283.60" y2="624.8" stroke="#333" stroke-width="1"/>
<line x1="46.2" y1="623.00" x2="49.5" y2="623.00" stroke="#333" stroke-width="1"/>
<line x1="46.2" y1="588.74" x2="49.5" y2="588.74" stroke="#333" stroke-width="1"/>
<line x1="46.2" y1="554.48" x2="49.5" y2="554.48" stroke="#333" stroke-width="1"/>
<line x1="46.2" y1="520.22" x2="49.5" y2="520.22" stroke="#333" stroke-width="1"/>
<line x1="46.2" y1="485.96" x2="49.5" y2="485.96" stroke="#333" stroke-width="1"/>
<line x1="46.2" y1="451.70" x2="49.5" y2="451.70" stroke="#333" stroke-width="1"/>
<line x1="47.7" y1="623.00" x2="49.5" y2="623.00" stroke="#333" stroke-width="1"/>
<line x1="47.7" y1="605.87" x2="49.5" y2="605.87" stroke="#333" stroke-width="1"/>
<line x1="47.7" y1="588.74" x2="49.5" y2="588.74" stroke="#333" stroke-width="1"/>
<line x1="47.7" y1="571.61" x2="49.5" y2="571.61" stroke="#333" stroke-width="1"/>
<line x1="47.7" y1="554.48" x2="49.5" y2="554.48" stroke="#333" stroke-width="1"/>
<line x1="47.7" y1="537.35" x2="49.5" y2="537.35" stroke="#333" stroke-width="1"/>
<line x1="47.7" y1="520.22" x2="49.5" y2="520.22" stroke="#333" stroke-width="1"/>
<line x1="47.7" y1="503.09" x2="49.5" y2="503.09" stroke="#333" stroke-width="1"/>
<line x1="47.7" y1="485.96" x2="49.5" y2="485.96" stroke="#333" stroke-width="1"/>
<line x1="47.7" y1="468.83" x2="49.5" y2="468.83" stroke="#333" stroke-width="1"/>
<line x1="47.7" y1="451.70" x2="49.5" y2="451.70" stroke="#333" stroke-width="1"/>
<text transform="translate(49.50,635.00) scale(0.86,1)" font-size="8.2" text-anchor="middle" fill="#1a1a1a" stroke="#1a1a1a" stroke-width="0.12">10</text>
<text transform="translate(88.52,635.00) scale(0.86,1)" font-size="8.2" text-anchor="middle" fill="#1a1a1a" stroke="#1a1a1a" stroke-width="0.12">12</text>
<text transform="translate(127.53,635.00) scale(0.86,1)" font-size="8.2" text-anchor="middle" fill="#1a1a1a" stroke="#1a1a1a" stroke-width="0.12">14</text>
<text transform="translate(166.55,635.00) scale(0.86,1)" font-size="8.2" text-anchor="middle" fill="#1a1a1a" stroke="#1a1a1a" stroke-width="0.12">16</text>
<text transform="translate(205.57,635.00) scale(0.86,1)" font-size="8.2" text-anchor="middle" fill="#1a1a1a" stroke="#1a1a1a" stroke-width="0.12">18</text>
<text transform="translate(244.58,635.00) scale(0.86,1)" font-size="8.2" text-anchor="middle" fill="#1a1a1a" stroke="#1a1a1a" stroke-width="0.12">20</text>
<text transform="translate(283.60,635.00) scale(0.86,1)" font-size="8.2" text-anchor="middle" fill="#1a1a1a" stroke="#1a1a1a" stroke-width="0.12">22</text>
<text transform="translate(42.90,625.45) scale(0.86,1)" font-size="8.2" text-anchor="end" fill="#1a1a1a" stroke="#1a1a1a" stroke-width="0.12">25</text>
<text transform="translate(42.90,591.19) scale(0.86,1)" font-size="8.2" text-anchor="end" fill="#1a1a1a" stroke="#1a1a1a" stroke-width="0.12">30</text>
<text transform="translate(42.90,556.93) scale(0.86,1)" font-size="8.2" text-anchor="end" fill="#1a1a1a" stroke="#1a1a1a" stroke-width="0.12">35</text>
<text transform="translate(42.90,522.67) scale(0.86,1)" font-size="8.2" text-anchor="end" fill="#1a1a1a" stroke="#1a1a1a" stroke-width="0.12">40</text>
<text transform="translate(42.90,488.41) scale(0.86,1)" font-size="8.2" text-anchor="end" fill="#1a1a1a" stroke="#1a1a1a" stroke-width="0.12">45</text>
<text transform="translate(42.90,454.15) scale(0.86,1)" font-size="8.2" text-anchor="end" fill="#1a1a1a" stroke="#1a1a1a" stroke-width="0.12">50</text>
<text x="135.25" y="649.70" font-size="9.1" fill="#1a1a1a" stroke="#1a1a1a" stroke-width="0.15" textLength="63.5" lengthAdjust="spacingAndGlyphs">Pout/tone(dBm)</text>
<text transform="translate(21.40,539.00) rotate(-90)" x="-22.25" y="0" font-size="9.1" fill="#1a1a1a" stroke="#1a1a1a" stroke-width="0.15" textLength="44.5" lengthAdjust="spacingAndGlyphs">OIP3(dBm)</text>
<rect x="203.5" y="464.7" width="68.80" height="33.90" fill="#fff" stroke="#333" stroke-width="1"/>
<line x1="207.3" y1="470.9" x2="227.8" y2="470.9" stroke="#333" stroke-width="1.3" fill="none"/>
<text x="230.5" y="474.10" font-size="9.2" fill="#1a1a1a" stroke="#1a1a1a" stroke-width="0.22" textLength="38.6" lengthAdjust="spacing">2110MHz</text>
<line x1="207.3" y1="482.0" x2="227.8" y2="482.0" stroke="#f33" stroke-width="1.3" fill="none" stroke-dasharray="3.7 4.6"/>
<text x="230.5" y="485.20" font-size="9.2" fill="#1a1a1a" stroke="#1a1a1a" stroke-width="0.22" textLength="37.0" lengthAdjust="spacing">2140Mhz</text>
<line x1="207.3" y1="493.2" x2="227.8" y2="493.2" stroke="#9aa0ff" stroke-width="1.1" fill="none" stroke-dasharray="1.2 3"/>
<text x="230.5" y="496.40" font-size="9.2" fill="#1a1a1a" stroke="#1a1a1a" stroke-width="0.22" textLength="37.0" lengthAdjust="spacing">2170Mhz</text>
<line x1="430.47" y1="448.3" x2="430.47" y2="623.0" stroke="#f0f0f0" stroke-width="0.8" stroke-dasharray="1 5"/>
<line x1="453.81" y1="448.3" x2="453.81" y2="623.0" stroke="#f0f0f0" stroke-width="0.8" stroke-dasharray="1 5"/>
<line x1="477.15" y1="448.3" x2="477.15" y2="623.0" stroke="#f0f0f0" stroke-width="0.8" stroke-dasharray="1 5"/>
<line x1="500.49" y1="448.3" x2="500.49" y2="623.0" stroke="#f0f0f0" stroke-width="0.8" stroke-dasharray="1 5"/>
<line x1="523.83" y1="448.3" x2="523.83" y2="623.0" stroke="#f0f0f0" stroke-width="0.8" stroke-dasharray="1 5"/>
<line x1="547.17" y1="448.3" x2="547.17" y2="623.0" stroke="#f0f0f0" stroke-width="0.8" stroke-dasharray="1 5"/>
<line x1="570.51" y1="448.3" x2="570.51" y2="623.0" stroke="#f0f0f0" stroke-width="0.8" stroke-dasharray="1 5"/>
<line x1="593.85" y1="448.3" x2="593.85" y2="623.0" stroke="#f0f0f0" stroke-width="0.8" stroke-dasharray="1 5"/>
<line x1="617.19" y1="448.3" x2="617.19" y2="623.0" stroke="#f0f0f0" stroke-width="0.8" stroke-dasharray="1 5"/>
<line x1="640.53" y1="448.3" x2="640.53" y2="623.0" stroke="#f0f0f0" stroke-width="0.8" stroke-dasharray="1 5"/>
<line x1="418.8" y1="573.09" x2="652.2" y2="573.09" stroke="#f0f0f0" stroke-width="0.8" stroke-dasharray="1 5"/>
<line x1="418.8" y1="523.17" x2="652.2" y2="523.17" stroke="#f0f0f0" stroke-width="0.8" stroke-dasharray="1 5"/>
<line x1="418.8" y1="473.26" x2="652.2" y2="473.26" stroke="#f0f0f0" stroke-width="0.8" stroke-dasharray="1 5"/>
<line x1="442.50" y1="448.3" x2="442.50" y2="623.0" stroke="#a4a4a4" stroke-width="1"/>
<line x1="465.50" y1="448.3" x2="465.50" y2="623.0" stroke="#a4a4a4" stroke-width="1"/>
<line x1="488.50" y1="448.3" x2="488.50" y2="623.0" stroke="#a4a4a4" stroke-width="1"/>
<line x1="512.50" y1="448.3" x2="512.50" y2="623.0" stroke="#a4a4a4" stroke-width="1"/>
<line x1="535.50" y1="448.3" x2="535.50" y2="623.0" stroke="#a4a4a4" stroke-width="1"/>
<line x1="558.50" y1="448.3" x2="558.50" y2="623.0" stroke="#a4a4a4" stroke-width="1"/>
<line x1="582.50" y1="448.3" x2="582.50" y2="623.0" stroke="#a4a4a4" stroke-width="1"/>
<line x1="605.50" y1="448.3" x2="605.50" y2="623.0" stroke="#a4a4a4" stroke-width="1"/>
<line x1="628.50" y1="448.3" x2="628.50" y2="623.0" stroke="#a4a4a4" stroke-width="1"/>
<line x1="418.8" y1="598.50" x2="652.2" y2="598.50" stroke="#a4a4a4" stroke-width="1"/>
<line x1="418.8" y1="548.50" x2="652.2" y2="548.50" stroke="#a4a4a4" stroke-width="1"/>
<line x1="418.8" y1="498.50" x2="652.2" y2="498.50" stroke="#a4a4a4" stroke-width="1"/>
<path d="M442.30,609.00 C446.13,608.70 457.55,607.93 465.30,607.20 C473.05,606.47 480.98,605.80 488.80,604.60 C496.62,603.40 504.40,601.93 512.20,600.00 C520.00,598.07 527.80,596.10 535.60,593.00 C543.40,589.90 551.22,586.48 559.00,581.40 C566.78,576.32 574.53,570.57 582.30,562.50 C590.07,554.43 597.83,544.95 605.60,533.00 C613.37,521.05 623.07,503.22 628.90,490.80 C634.73,478.38 638.65,463.88 640.60,458.50" stroke="#333" stroke-width="1.3" fill="none"/>
<rect x="418.8" y="448.3" width="233.40" height="174.70" fill="none" stroke="#6e6e6e" stroke-width="1.4"/>
<line x1="418.8" y1="447.6" x2="418.8" y2="623.7" stroke="#444" stroke-width="1.25"/>
<line x1="418.80" y1="623.0" x2="418.80" y2="626.0" stroke="#333" stroke-width="1"/>
<line x1="442.14" y1="623.0" x2="442.14" y2="626.0" stroke="#333" stroke-width="1"/>
<line x1="465.48" y1="623.0" x2="465.48" y2="626.0" stroke="#333" stroke-width="1"/>
<line x1="488.82" y1="623.0" x2="488.82" y2="626.0" stroke="#333" stroke-width="1"/>
<line x1="512.16" y1="623.0" x2="512.16" y2="626.0" stroke="#333" stroke-width="1"/>
<line x1="535.50" y1="623.0" x2="535.50" y2="626.0" stroke="#333" stroke-width="1"/>
<line x1="558.84" y1="623.0" x2="558.84" y2="626.0" stroke="#333" stroke-width="1"/>
<line x1="582.18" y1="623.0" x2="582.18" y2="626.0" stroke="#333" stroke-width="1"/>
<line x1="605.52" y1="623.0" x2="605.52" y2="626.0" stroke="#333" stroke-width="1"/>
<line x1="628.86" y1="623.0" x2="628.86" y2="626.0" stroke="#333" stroke-width="1"/>
<line x1="652.20" y1="623.0" x2="652.20" y2="626.0" stroke="#333" stroke-width="1"/>
<line x1="418.80" y1="623.0" x2="418.80" y2="624.8" stroke="#333" stroke-width="1"/>
<line x1="430.47" y1="623.0" x2="430.47" y2="624.8" stroke="#333" stroke-width="1"/>
<line x1="442.14" y1="623.0" x2="442.14" y2="624.8" stroke="#333" stroke-width="1"/>
<line x1="453.81" y1="623.0" x2="453.81" y2="624.8" stroke="#333" stroke-width="1"/>
<line x1="465.48" y1="623.0" x2="465.48" y2="624.8" stroke="#333" stroke-width="1"/>
<line x1="477.15" y1="623.0" x2="477.15" y2="624.8" stroke="#333" stroke-width="1"/>
<line x1="488.82" y1="623.0" x2="488.82" y2="624.8" stroke="#333" stroke-width="1"/>
<line x1="500.49" y1="623.0" x2="500.49" y2="624.8" stroke="#333" stroke-width="1"/>
<line x1="512.16" y1="623.0" x2="512.16" y2="624.8" stroke="#333" stroke-width="1"/>
<line x1="523.83" y1="623.0" x2="523.83" y2="624.8" stroke="#333" stroke-width="1"/>
<line x1="535.50" y1="623.0" x2="535.50" y2="624.8" stroke="#333" stroke-width="1"/>
<line x1="547.17" y1="623.0" x2="547.17" y2="624.8" stroke="#333" stroke-width="1"/>
<line x1="558.84" y1="623.0" x2="558.84" y2="624.8" stroke="#333" stroke-width="1"/>
<line x1="570.51" y1="623.0" x2="570.51" y2="624.8" stroke="#333" stroke-width="1"/>
<line x1="582.18" y1="623.0" x2="582.18" y2="624.8" stroke="#333" stroke-width="1"/>
<line x1="593.85" y1="623.0" x2="593.85" y2="624.8" stroke="#333" stroke-width="1"/>
<line x1="605.52" y1="623.0" x2="605.52" y2="624.8" stroke="#333" stroke-width="1"/>
<line x1="617.19" y1="623.0" x2="617.19" y2="624.8" stroke="#333" stroke-width="1"/>
<line x1="628.86" y1="623.0" x2="628.86" y2="624.8" stroke="#333" stroke-width="1"/>
<line x1="640.53" y1="623.0" x2="640.53" y2="624.8" stroke="#333" stroke-width="1"/>
<line x1="652.20" y1="623.0" x2="652.20" y2="624.8" stroke="#333" stroke-width="1"/>
<line x1="415.5" y1="598.04" x2="418.8" y2="598.04" stroke="#333" stroke-width="1"/>
<line x1="415.5" y1="548.13" x2="418.8" y2="548.13" stroke="#333" stroke-width="1"/>
<line x1="415.5" y1="498.21" x2="418.8" y2="498.21" stroke="#333" stroke-width="1"/>
<line x1="415.5" y1="448.30" x2="418.8" y2="448.30" stroke="#333" stroke-width="1"/>
<line x1="417.0" y1="623.00" x2="418.8" y2="623.00" stroke="#333" stroke-width="1"/>
<line x1="417.0" y1="598.04" x2="418.8" y2="598.04" stroke="#333" stroke-width="1"/>
<line x1="417.0" y1="573.09" x2="418.8" y2="573.09" stroke="#333" stroke-width="1"/>
<line x1="417.0" y1="548.13" x2="418.8" y2="548.13" stroke="#333" stroke-width="1"/>
<line x1="417.0" y1="523.17" x2="418.8" y2="523.17" stroke="#333" stroke-width="1"/>
<line x1="417.0" y1="498.21" x2="418.8" y2="498.21" stroke="#333" stroke-width="1"/>
<line x1="417.0" y1="473.26" x2="418.8" y2="473.26" stroke="#333" stroke-width="1"/>
<line x1="417.0" y1="448.30" x2="418.8" y2="448.30" stroke="#333" stroke-width="1"/>
<text transform="translate(418.80,635.00) scale(0.86,1)" font-size="8.2" text-anchor="middle" fill="#1a1a1a" stroke="#1a1a1a" stroke-width="0.12">10</text>
<text transform="translate(442.14,635.00) scale(0.86,1)" font-size="8.2" text-anchor="middle" fill="#1a1a1a" stroke="#1a1a1a" stroke-width="0.12">12</text>
<text transform="translate(465.48,635.00) scale(0.86,1)" font-size="8.2" text-anchor="middle" fill="#1a1a1a" stroke="#1a1a1a" stroke-width="0.12">14</text>
<text transform="translate(488.82,635.00) scale(0.86,1)" font-size="8.2" text-anchor="middle" fill="#1a1a1a" stroke="#1a1a1a" stroke-width="0.12">16</text>
<text transform="translate(512.16,635.00) scale(0.86,1)" font-size="8.2" text-anchor="middle" fill="#1a1a1a" stroke="#1a1a1a" stroke-width="0.12">18</text>
<text transform="translate(535.50,635.00) scale(0.86,1)" font-size="8.2" text-anchor="middle" fill="#1a1a1a" stroke="#1a1a1a" stroke-width="0.12">20</text>
<text transform="translate(558.84,635.00) scale(0.86,1)" font-size="8.2" text-anchor="middle" fill="#1a1a1a" stroke="#1a1a1a" stroke-width="0.12">22</text>
<text transform="translate(582.18,635.00) scale(0.86,1)" font-size="8.2" text-anchor="middle" fill="#1a1a1a" stroke="#1a1a1a" stroke-width="0.12">24</text>
<text transform="translate(605.52,635.00) scale(0.86,1)" font-size="8.2" text-anchor="middle" fill="#1a1a1a" stroke="#1a1a1a" stroke-width="0.12">26</text>
<text transform="translate(628.86,635.00) scale(0.86,1)" font-size="8.2" text-anchor="middle" fill="#1a1a1a" stroke="#1a1a1a" stroke-width="0.12">28</text>
<text transform="translate(652.20,635.00) scale(0.86,1)" font-size="8.2" text-anchor="middle" fill="#1a1a1a" stroke="#1a1a1a" stroke-width="0.12">30</text>
<text transform="translate(412.20,600.49) scale(0.86,1)" font-size="8.2" text-anchor="end" fill="#1a1a1a" stroke="#1a1a1a" stroke-width="0.12">150</text>
<text transform="translate(412.20,550.58) scale(0.86,1)" font-size="8.2" text-anchor="end" fill="#1a1a1a" stroke="#1a1a1a" stroke-width="0.12">200</text>
<text transform="translate(412.20,500.66) scale(0.86,1)" font-size="8.2" text-anchor="end" fill="#1a1a1a" stroke="#1a1a1a" stroke-width="0.12">250</text>
<text transform="translate(412.20,450.75) scale(0.86,1)" font-size="8.2" text-anchor="end" fill="#1a1a1a" stroke="#1a1a1a" stroke-width="0.12">300</text>
<text x="514.10" y="649.70" font-size="9.1" fill="#1a1a1a" stroke="#1a1a1a" stroke-width="0.15" textLength="44.8" lengthAdjust="spacingAndGlyphs">Pout(dBm)</text>
<text transform="translate(386.40,540.80) rotate(-90)" x="-16.60" y="0" font-size="9.1" fill="#1a1a1a" stroke="#1a1a1a" stroke-width="0.15" textLength="33.2" lengthAdjust="spacingAndGlyphs">Icc(mA)</text>
<rect x="561.3" y="459.8" width="66.80" height="11.10" fill="#fff" stroke="#333" stroke-width="1"/>
<line x1="565.2" y1="465.4" x2="584.9" y2="465.4" stroke="#333" stroke-width="1.3" fill="none"/>
<text x="588.0" y="468.60" font-size="9.2" fill="#1a1a1a" stroke="#1a1a1a" stroke-width="0.22" textLength="37.8" lengthAdjust="spacing">2140Mhz</text>
<line x1="70.06" y1="671.1" x2="70.06" y2="845.2" stroke="#f0f0f0" stroke-width="0.8" stroke-dasharray="1 5"/>
<line x1="109.17" y1="671.1" x2="109.17" y2="845.2" stroke="#f0f0f0" stroke-width="0.8" stroke-dasharray="1 5"/>
<line x1="148.29" y1="671.1" x2="148.29" y2="845.2" stroke="#f0f0f0" stroke-width="0.8" stroke-dasharray="1 5"/>
<line x1="187.41" y1="671.1" x2="187.41" y2="845.2" stroke="#f0f0f0" stroke-width="0.8" stroke-dasharray="1 5"/>
<line x1="226.52" y1="671.1" x2="226.52" y2="845.2" stroke="#f0f0f0" stroke-width="0.8" stroke-dasharray="1 5"/>
<line x1="265.64" y1="671.1" x2="265.64" y2="845.2" stroke="#f0f0f0" stroke-width="0.8" stroke-dasharray="1 5"/>
<line x1="50.5" y1="832.76" x2="285.2" y2="832.76" stroke="#f0f0f0" stroke-width="0.8" stroke-dasharray="1 5"/>
<line x1="50.5" y1="807.89" x2="285.2" y2="807.89" stroke="#f0f0f0" stroke-width="0.8" stroke-dasharray="1 5"/>
<line x1="50.5" y1="783.02" x2="285.2" y2="783.02" stroke="#f0f0f0" stroke-width="0.8" stroke-dasharray="1 5"/>
<line x1="50.5" y1="758.15" x2="285.2" y2="758.15" stroke="#f0f0f0" stroke-width="0.8" stroke-dasharray="1 5"/>
<line x1="50.5" y1="733.28" x2="285.2" y2="733.28" stroke="#f0f0f0" stroke-width="0.8" stroke-dasharray="1 5"/>
<line x1="50.5" y1="708.41" x2="285.2" y2="708.41" stroke="#f0f0f0" stroke-width="0.8" stroke-dasharray="1 5"/>
<line x1="50.5" y1="683.54" x2="285.2" y2="683.54" stroke="#f0f0f0" stroke-width="0.8" stroke-dasharray="1 5"/>
<line x1="89.50" y1="671.1" x2="89.50" y2="845.2" stroke="#a4a4a4" stroke-width="1"/>
<line x1="128.50" y1="671.1" x2="128.50" y2="845.2" stroke="#a4a4a4" stroke-width="1"/>
<line x1="167.50" y1="671.1" x2="167.50" y2="845.2" stroke="#a4a4a4" stroke-width="1"/>
<line x1="206.50" y1="671.1" x2="206.50" y2="845.2" stroke="#a4a4a4" stroke-width="1"/>
<line x1="246.50" y1="671.1" x2="246.50" y2="845.2" stroke="#a4a4a4" stroke-width="1"/>
<line x1="50.5" y1="820.50" x2="285.2" y2="820.50" stroke="#a4a4a4" stroke-width="1"/>
<line x1="50.5" y1="795.50" x2="285.2" y2="795.50" stroke="#a4a4a4" stroke-width="1"/>
<line x1="50.5" y1="770.50" x2="285.2" y2="770.50" stroke="#a4a4a4" stroke-width="1"/>
<line x1="50.5" y1="745.50" x2="285.2" y2="745.50" stroke="#a4a4a4" stroke-width="1"/>
<line x1="50.5" y1="720.50" x2="285.2" y2="720.50" stroke="#a4a4a4" stroke-width="1"/>
<line x1="50.5" y1="695.50" x2="285.2" y2="695.50" stroke="#a4a4a4" stroke-width="1"/>
<path d="M50.50,828.80 C57.02,826.73 76.57,820.48 89.60,816.40 C102.63,812.32 115.65,808.55 128.70,804.30 C141.75,800.05 154.85,795.53 167.90,790.90 C180.95,786.27 193.95,782.00 207.00,776.50 C220.05,771.00 233.17,765.17 246.20,757.90 C259.23,750.63 278.70,737.07 285.20,732.90" stroke="#333" stroke-width="1.3" fill="none"/>
<rect x="50.5" y="671.1" width="234.70" height="174.10" fill="none" stroke="#6e6e6e" stroke-width="1.4"/>
<line x1="50.5" y1="670.4" x2="50.5" y2="845.9000000000001" stroke="#444" stroke-width="1.25"/>
<line x1="50.50" y1="845.2" x2="50.50" y2="848.2" stroke="#333" stroke-width="1"/>
<line x1="89.62" y1="845.2" x2="89.62" y2="848.2" stroke="#333" stroke-width="1"/>
<line x1="128.73" y1="845.2" x2="128.73" y2="848.2" stroke="#333" stroke-width="1"/>
<line x1="167.85" y1="845.2" x2="167.85" y2="848.2" stroke="#333" stroke-width="1"/>
<line x1="206.97" y1="845.2" x2="206.97" y2="848.2" stroke="#333" stroke-width="1"/>
<line x1="246.08" y1="845.2" x2="246.08" y2="848.2" stroke="#333" stroke-width="1"/>
<line x1="285.20" y1="845.2" x2="285.20" y2="848.2" stroke="#333" stroke-width="1"/>
<line x1="50.50" y1="845.2" x2="50.50" y2="847.0" stroke="#333" stroke-width="1"/>
<line x1="70.06" y1="845.2" x2="70.06" y2="847.0" stroke="#333" stroke-width="1"/>
<line x1="89.62" y1="845.2" x2="89.62" y2="847.0" stroke="#333" stroke-width="1"/>
<line x1="109.17" y1="845.2" x2="109.17" y2="847.0" stroke="#333" stroke-width="1"/>
<line x1="128.73" y1="845.2" x2="128.73" y2="847.0" stroke="#333" stroke-width="1"/>
<line x1="148.29" y1="845.2" x2="148.29" y2="847.0" stroke="#333" stroke-width="1"/>
<line x1="167.85" y1="845.2" x2="167.85" y2="847.0" stroke="#333" stroke-width="1"/>
<line x1="187.41" y1="845.2" x2="187.41" y2="847.0" stroke="#333" stroke-width="1"/>
<line x1="206.97" y1="845.2" x2="206.97" y2="847.0" stroke="#333" stroke-width="1"/>
<line x1="226.52" y1="845.2" x2="226.52" y2="847.0" stroke="#333" stroke-width="1"/>
<line x1="246.08" y1="845.2" x2="246.08" y2="847.0" stroke="#333" stroke-width="1"/>
<line x1="265.64" y1="845.2" x2="265.64" y2="847.0" stroke="#333" stroke-width="1"/>
<line x1="285.20" y1="845.2" x2="285.20" y2="847.0" stroke="#333" stroke-width="1"/>
<line x1="47.2" y1="845.20" x2="50.5" y2="845.20" stroke="#333" stroke-width="1"/>
<line x1="47.2" y1="820.33" x2="50.5" y2="820.33" stroke="#333" stroke-width="1"/>
<line x1="47.2" y1="795.46" x2="50.5" y2="795.46" stroke="#333" stroke-width="1"/>
<line x1="47.2" y1="770.59" x2="50.5" y2="770.59" stroke="#333" stroke-width="1"/>
<line x1="47.2" y1="745.71" x2="50.5" y2="745.71" stroke="#333" stroke-width="1"/>
<line x1="47.2" y1="720.84" x2="50.5" y2="720.84" stroke="#333" stroke-width="1"/>
<line x1="47.2" y1="695.97" x2="50.5" y2="695.97" stroke="#333" stroke-width="1"/>
<line x1="47.2" y1="671.10" x2="50.5" y2="671.10" stroke="#333" stroke-width="1"/>
<line x1="48.7" y1="845.20" x2="50.5" y2="845.20" stroke="#333" stroke-width="1"/>
<line x1="48.7" y1="832.76" x2="50.5" y2="832.76" stroke="#333" stroke-width="1"/>
<line x1="48.7" y1="820.33" x2="50.5" y2="820.33" stroke="#333" stroke-width="1"/>
<line x1="48.7" y1="807.89" x2="50.5" y2="807.89" stroke="#333" stroke-width="1"/>
<line x1="48.7" y1="795.46" x2="50.5" y2="795.46" stroke="#333" stroke-width="1"/>
<line x1="48.7" y1="783.02" x2="50.5" y2="783.02" stroke="#333" stroke-width="1"/>
<line x1="48.7" y1="770.59" x2="50.5" y2="770.59" stroke="#333" stroke-width="1"/>
<line x1="48.7" y1="758.15" x2="50.5" y2="758.15" stroke="#333" stroke-width="1"/>
<line x1="48.7" y1="745.71" x2="50.5" y2="745.71" stroke="#333" stroke-width="1"/>
<line x1="48.7" y1="733.28" x2="50.5" y2="733.28" stroke="#333" stroke-width="1"/>
<line x1="48.7" y1="720.84" x2="50.5" y2="720.84" stroke="#333" stroke-width="1"/>
<line x1="48.7" y1="708.41" x2="50.5" y2="708.41" stroke="#333" stroke-width="1"/>
<line x1="48.7" y1="695.97" x2="50.5" y2="695.97" stroke="#333" stroke-width="1"/>
<line x1="48.7" y1="683.54" x2="50.5" y2="683.54" stroke="#333" stroke-width="1"/>
<line x1="48.7" y1="671.10" x2="50.5" y2="671.10" stroke="#333" stroke-width="1"/>
<text transform="translate(50.50,857.20) scale(0.86,1)" font-size="8.2" text-anchor="middle" fill="#1a1a1a" stroke="#1a1a1a" stroke-width="0.12">8</text>
<text transform="translate(89.62,857.20) scale(0.86,1)" font-size="8.2" text-anchor="middle" fill="#1a1a1a" stroke="#1a1a1a" stroke-width="0.12">10</text>
<text transform="translate(128.73,857.20) scale(0.86,1)" font-size="8.2" text-anchor="middle" fill="#1a1a1a" stroke="#1a1a1a" stroke-width="0.12">12</text>
<text transform="translate(167.85,857.20) scale(0.86,1)" font-size="8.2" text-anchor="middle" fill="#1a1a1a" stroke="#1a1a1a" stroke-width="0.12">14</text>
<text transform="translate(206.97,857.20) scale(0.86,1)" font-size="8.2" text-anchor="middle" fill="#1a1a1a" stroke="#1a1a1a" stroke-width="0.12">16</text>
<text transform="translate(246.08,857.20) scale(0.86,1)" font-size="8.2" text-anchor="middle" fill="#1a1a1a" stroke="#1a1a1a" stroke-width="0.12">18</text>
<text transform="translate(285.20,857.20) scale(0.86,1)" font-size="8.2" text-anchor="middle" fill="#1a1a1a" stroke="#1a1a1a" stroke-width="0.12">20</text>
<text transform="translate(43.90,847.65) scale(0.86,1)" font-size="8.2" text-anchor="end" fill="#1a1a1a" stroke="#1a1a1a" stroke-width="0.12">-65</text>
<text transform="translate(43.90,822.78) scale(0.86,1)" font-size="8.2" text-anchor="end" fill="#1a1a1a" stroke="#1a1a1a" stroke-width="0.12">-60</text>
<text transform="translate(43.90,797.91) scale(0.86,1)" font-size="8.2" text-anchor="end" fill="#1a1a1a" stroke="#1a1a1a" stroke-width="0.12">-55</text>
<text transform="translate(43.90,773.04) scale(0.86,1)" font-size="8.2" text-anchor="end" fill="#1a1a1a" stroke="#1a1a1a" stroke-width="0.12">-50</text>
<text transform="translate(43.90,748.16) scale(0.86,1)" font-size="8.2" text-anchor="end" fill="#1a1a1a" stroke="#1a1a1a" stroke-width="0.12">-45</text>
<text transform="translate(43.90,723.29) scale(0.86,1)" font-size="8.2" text-anchor="end" fill="#1a1a1a" stroke="#1a1a1a" stroke-width="0.12">-40</text>
<text transform="translate(43.90,698.42) scale(0.86,1)" font-size="8.2" text-anchor="end" fill="#1a1a1a" stroke="#1a1a1a" stroke-width="0.12">-35</text>
<text transform="translate(43.90,673.55) scale(0.86,1)" font-size="8.2" text-anchor="end" fill="#1a1a1a" stroke="#1a1a1a" stroke-width="0.12">-30</text>
<text x="145.70" y="871.90" font-size="9.1" fill="#1a1a1a" stroke="#1a1a1a" stroke-width="0.15" textLength="44.0" lengthAdjust="spacingAndGlyphs">Pout(dBm)</text>
<text transform="translate(19.90,762.00) rotate(-90)" x="-23.20" y="0" font-size="9.1" fill="#1a1a1a" stroke="#1a1a1a" stroke-width="0.15" textLength="46.4" lengthAdjust="spacingAndGlyphs">ACLR(dBc)</text>
<rect x="186.3" y="695.3" width="67.30" height="11.60" fill="#fff" stroke="#333" stroke-width="1"/>
<line x1="190.2" y1="701.2" x2="209.6" y2="701.2" stroke="#333" stroke-width="1.3" fill="none"/>
<text x="213.4" y="704.40" font-size="9.2" fill="#1a1a1a" stroke="#1a1a1a" stroke-width="0.22" textLength="37.2" lengthAdjust="spacing">2140Mhz</text>
</svg></body></html>
